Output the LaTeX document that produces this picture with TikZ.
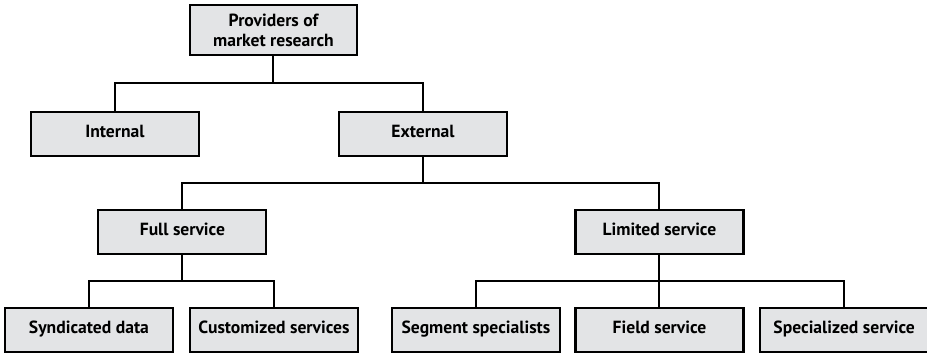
\documentclass[tikz,border=0pt]{standalone}
\usepackage{fontspec}
\setmainfont{PT Sans}
\usetikzlibrary{positioning}
\definecolor{boxgray}{RGB}{227,228,230}

\begin{document}
\begin{tikzpicture}[line width=1.5pt,every node/.style={shape=rectangle,draw,fill=boxgray,line width=1.6pt,align=center,inner sep=2pt,outer sep=0pt,minimum width=126pt,minimum height=33pt,text height=1.6ex,text depth=.45ex,font=\bfseries\fontsize{13.2}{15}\selectfont},]
	\useasboundingbox (0,0) rectangle (695.25pt,-265.5pt);
	% create boxes
	\node (prov) at (205.1pt,-22.5pt) [minimum width=125pt,minimum height=37.5pt,text height={},text depth={}] {Providers of\\market research};
	\node (int) [below = 42.75pt of prov,xshift = -118.9pt] {Internal};
	\node (ext) [below = 42.75pt of prov,xshift = 112.1pt] {External};
	\node (full) [below = 40.5pt of ext,xshift = -180.4pt] {Full service};
	\node (lim) [below = 40.5pt of ext,xshift = 177.4pt] {Limited service};
	\node (synd) [below = 40.5pt of full,xshift = -70.1pt] {Syndicated data};
	\node (cust) [right = 12.75pt of synd] {Customized services};
	\node (seg) [right = 25.5pt of cust] {Segment specialists};
	\node (field) [below = 40.5pt of lim] {Field service};
	\node (spec) [right = 12.5pt of field] {Specialized service};

	% connect each level
	\draw (prov.south) -- ++(0,-21pt) coordinate (provj) -| (int.north);
	\draw (provj) -| (ext.north);
	\draw (ext.south) -- ++(0,-20.25pt) coordinate (extj) -| (full.north);
	\draw (extj) -| (lim.north);
	\draw (full.south) -- ++(0,-20.25pt) coordinate (fullj) -| (synd.north);
	\draw (fullj) -| (cust.north);
	\draw (lim.south) -- ++(0,-20.25pt) coordinate (limj) -| (seg.north);
	\draw (limj) -- (field.north);
	\draw (limj) -| (spec.north);
\end{tikzpicture}
\end{document}
